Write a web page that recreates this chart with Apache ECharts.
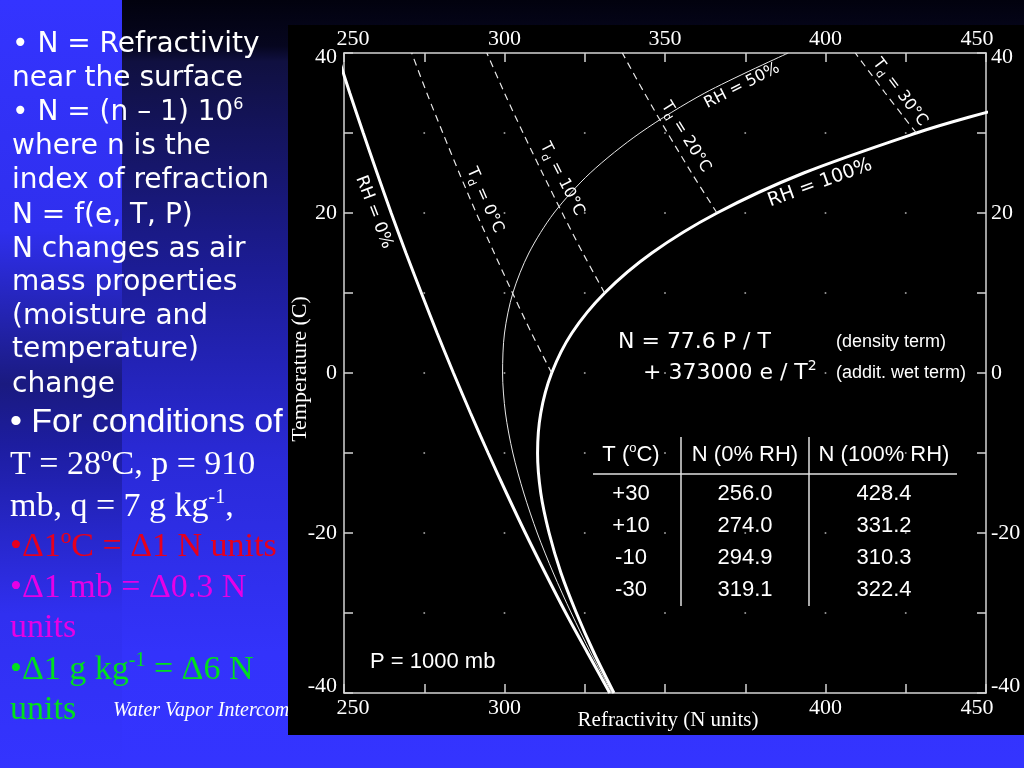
<!DOCTYPE html>
<html><head><meta charset="utf-8">
<script src="https://cdn.jsdelivr.net/npm/echarts@6/dist/echarts.min.js"></script>
<style>html,body{margin:0;padding:0;background:#3333ff;overflow:hidden}#main{width:1024px;height:768px}</style>
</head><body><div id="main"></div>
<script>
// ---- data (N units vs temperature °C, P = 1000 mb) ----
const temps   = [-40,-35,-30,-25,-20,-15,-10,-5,0,5,10,15,20,25,30,35,40];
const rh0N    = [332.8,325.9,319.1,312.7,306.5,300.6,294.9,289.4,284.1,279.0,274.1,269.3,264.7,260.3,256.0,251.8,247.8];
const rh50N   = [333.5,326.9,320.8,315.2,310.2,306.0,302.6,300.3,299.4,300.0,302.6,307.6,315.4,326.7,342.2,362.4,388.4];
const rh100T  = [-40,-35,-30,-25,-20,-15,-10,-5,0,5,10,15,20,25,30,32,35];
const rh100N  = [334.1,327.9,322.4,317.6,313.9,311.3,310.3,311.3,314.7,321.0,331.2,345.9,366.2,393.2,428.3,444.9,473.0];
const td0T    = [0,5,10,15,20,25,30,35,40];
const td0N    = [314.7,308.4,302.5,296.8,291.2,285.9,280.8,275.8,271.1];
const td10T   = [10,15,20,25,30,35,40];
const td10N   = [331.2,324.4,318.0,311.8,305.8,300.0,294.5];
const td20T   = [20,25,30,35,40];
const td20N   = [366.2,358.3,350.8,343.6,336.7];
const td30T   = [30,32,35,40];
const td30N   = [428.3,424.4,418.6,409.3];
const dotN    = [275,300,325,350,375,400,425];
const dotT    = [30,20,10,0,-10,-20,-30];
const tableT    = ['+30','+10','-10','-30'];
const tableN0   = ['256.0','274.0','294.9','319.1'];
const tableN100 = ['428.4','331.2','310.3','322.4'];

function pairs(ns, ts){ return ns.map((n,i)=>[n, ts[i]]); }
const dots = [];
dotN.forEach(n => dotT.forEach(t => dots.push([n, t])));

const AX = '#d4d4d4';
const lblFont = {color:'#fff', fontFamily:'Liberation Serif', fontSize:22};
function xAxisCfg(pos){
  return {
    type:'value', position:pos, min:250, max:450, interval:50,
    axisLine:{show:true, onZero:false, lineStyle:{color:AX, width:1.5}},
    axisTick:{show:true, inside:true, length:9, lineStyle:{color:AX, width:1.5}},
    minorTick:{show:true, splitNumber:2, length:9, lineStyle:{color:AX, width:1.5}},
    splitLine:{show:false},
    axisLabel:{margin: pos==='top'?3:4,
      formatter:v => v===250 ? '{l|250}' : (v===450 ? '{r|450}' : ((pos==='bottom' && v===350) ? '' : '{n|'+v+'}')),
      rich:{n:lblFont, l:Object.assign({padding:[0,0,0,18]}, lblFont), r:Object.assign({padding:[0,18,0,0]}, lblFont)}}
  };
}
function yAxisCfg(pos){
  return {
    type:'value', position:pos, min:-40, max:40, interval:20,
    axisLine:{show:true, onZero:false, lineStyle:{color:AX, width:1.5}},
    axisTick:{show:true, inside:true, length:9, lineStyle:{color:AX, width:1.5}},
    minorTick:{show:true, splitNumber:2, length:9, lineStyle:{color:AX, width:1.5}},
    splitLine:{show:false},
    axisLabel:{margin: pos==='left'?7:5,
      formatter:v => v===40 ? '{t|40}' : (v===-40 ? '{b|-40}' : '{n|'+v+'}'),
      rich:{n:lblFont, t:Object.assign({padding:[8,0,0,0]}, lblFont), b:Object.assign({padding:[0,0,14,0]}, lblFont)}}
  };
}
const base = {type:'line', symbol:'none', showSymbol:false, smooth:0.3, clip:true, silent:true, z:3};
const thick = {color:'#fff', width:3};
const dash  = {color:'#e8e8e8', width:1.2, type:[7,5]};

const chart = echarts.init(document.getElementById('main'));
chart.setOption({
  animation:false,
  backgroundColor:'#3333ff',
  grid:{left:344, right:38, top:53, bottom:75, containLabel:false},
  xAxis:[xAxisCfg('bottom'), xAxisCfg('top')],
  yAxis:[yAxisCfg('left'), yAxisCfg('right')],
  series:[
    {type:'scatter', data:dots, symbolSize:2, itemStyle:{color:'#bdbdbd'}, silent:true, z:2},
    Object.assign({name:'RH = 0%', data:pairs(rh0N, temps), lineStyle:thick}, base),
    Object.assign({name:'RH = 50%', data:pairs(rh50N, temps), lineStyle:{color:'#e8e8e8', width:1}}, base),
    Object.assign({name:'RH = 100%', data:pairs(rh100N, rh100T), lineStyle:thick}, base),
    Object.assign({name:'Td = 0°C', data:pairs(td0N, td0T), lineStyle:dash}, base),
    Object.assign({name:'Td = 10°C', data:pairs(td10N, td10T), lineStyle:dash}, base),
    Object.assign({name:'Td = 20°C', data:pairs(td20N, td20T), lineStyle:dash}, base),
    Object.assign({name:'Td = 30°C', data:pairs(td30N, td30T), lineStyle:dash}, base)
  ]
});

// ---------- annotations ----------
const P = (n,t) => chart.convertToPixel({gridIndex:0}, [n,t]);
const deg = d => d*Math.PI/180;
const curveFont = 'DejaVu Sans';
function curveLabel(txt, n, t, rotDeg, size){
  const p = P(n,t);
  return {type:'text', x:p[0], y:p[1], rotation:deg(rotDeg), z:20,
    style:{text:txt, fill:'#fff', fontFamily:curveFont, fontSize:size, align:'center', verticalAlign:'middle'}};
}
function tdLabel(val, n, t, rotDeg){
  const p = P(n,t);
  return {type:'text', x:p[0], y:p[1], rotation:deg(rotDeg), z:20,
    style:{text:'{a|T}{d|d}{a| = '+val+'°C}', align:'center', verticalAlign:'middle',
      rich:{a:{fill:'#fff', fontFamily:curveFont, fontSize:16, lineHeight:22, verticalAlign:'middle'},
            d:{fill:'#fff', fontFamily:curveFont, fontSize:11, lineHeight:22, verticalAlign:'bottom'}}}};
}
function txt(s, x, y, opt){
  return {type:'text', x:x, y:y, z:opt.z||-20,
    style:Object.assign({text:s, fill:'#fff', align:'left', verticalAlign:'middle'}, opt.style)};
}
const leftFont = {fontFamily:'DejaVu Sans', fontSize:28};
const leftLines = ['• N = Refractivity','near the surface',null,'where n is the','index of refraction',
  'N = f(e, T, P)','N changes as air','mass properties','(moisture and','temperature)','change'];
const leftY = [45,79,113,147,181,216,250,283,317,350,385];
const serif = {fontFamily:'Liberation Serif', fontSize:34};

const g = [];
// backgrounds
g.push({type:'rect', z:-100, shape:{x:122,y:0,width:902,height:768},
  style:{fill:new echarts.graphic.LinearGradient(0,0,0,1,[
    {offset:0,color:'#02020e'},{offset:0.06,color:'#06061f'},{offset:0.08,color:'#101040'},
    {offset:0.35,color:'#1c1c95'},{offset:0.6,color:'#2a2ad8'},{offset:0.85,color:'#3333fb'},{offset:1,color:'#3434ff'}])}});
g.push({type:'rect', z:-100, shape:{x:0,y:0,width:122,height:768},
  style:{fill:new echarts.graphic.LinearGradient(0,0,0,1,[
    {offset:0,color:'#3434ff'},{offset:0.3,color:'#2f2fee'},{offset:0.5,color:'#1a1a80'},
    {offset:0.58,color:'#1d1da0'},{offset:0.8,color:'#3030f0'},{offset:1,color:'#3434ff'}])}});
// left text
leftLines.forEach((s,i) => { if(s) g.push(txt(s, 12, leftY[i], {style:leftFont})); });
g.push({type:'text', x:12, y:113, z:-20, style:{text:'{a|• N = (n – 1) 10}{s|6}', align:'left', verticalAlign:'middle',
  rich:{a:{fill:'#fff', fontFamily:'DejaVu Sans', fontSize:28, lineHeight:32, verticalAlign:'middle'},
        s:{fill:'#fff', fontFamily:'DejaVu Sans', fontSize:16, lineHeight:32, verticalAlign:'top'}}}});
g.push(txt('• For conditions of', 10, 423, {style:{fontFamily:'Liberation Sans', fontSize:34}}));
g.push(txt('T = 28ºC, p = 910', 10, 465, {style:serif}));
g.push({type:'text', x:10, y:507, z:-20, style:{text:'{a|mb, q = 7 g kg}{s|-1}{a|,}', align:'left', verticalAlign:'middle',
  rich:{a:{fill:'#fff', fontFamily:'Liberation Serif', fontSize:34, lineHeight:38, verticalAlign:'middle'},
        s:{fill:'#fff', fontFamily:'Liberation Serif', fontSize:20, lineHeight:38, verticalAlign:'top'}}}});
g.push(txt('•Δ1ºC = Δ1 N units', 10, 547, {style:Object.assign({fill:'#e6001e'}, serif)}));
g.push(txt('•Δ1 mb = Δ0.3 N', 10, 588, {style:Object.assign({fill:'#e600e6'}, serif)}));
g.push(txt('units', 10, 628, {style:Object.assign({fill:'#e600e6'}, serif)}));
g.push({type:'text', x:10, y:670, z:-20, style:{text:'{a|•Δ1 g kg}{s|-1}{a| = Δ6 N}', align:'left', verticalAlign:'middle',
  rich:{a:{fill:'#00e01e', fontFamily:'Liberation Serif', fontSize:34, lineHeight:38, verticalAlign:'middle'},
        s:{fill:'#00e01e', fontFamily:'Liberation Serif', fontSize:20, lineHeight:38, verticalAlign:'top'}}}});
g.push(txt('units', 10, 710, {style:Object.assign({fill:'#00e01e'}, serif)}));
g.push(txt('Water Vapor Intercomparison', 113, 711, {style:{fontFamily:'Liberation Serif', fontSize:20, fontStyle:'italic'}}));
// black chart panel (covers the end of the credit line)
g.push({type:'rect', z:-10, shape:{x:288,y:25,width:736,height:710}, style:{fill:'#000'}});
// axis titles
g.push({type:'text', x:300, y:369, rotation:Math.PI/2, z:20,
  style:{text:'Temperature (C)', fill:'#fff', fontFamily:'Liberation Serif', fontSize:22, align:'center', verticalAlign:'middle'}});
g.push({type:'text', x:668, y:720, z:20,
  style:{text:'Refractivity (N units)', fill:'#fff', fontFamily:'Liberation Serif', fontSize:21, align:'center', verticalAlign:'middle'}});
// curve labels
g.push(curveLabel('RH = 0%', 259.3, 20.1, -69, 17));
g.push(curveLabel('RH = 50%', 374.0, 35.9, 27, 16));
g.push(curveLabel('RH = 100%', 398.3, 23.75, 20, 19));
g.push(tdLabel('0', 293.9, 21.6, -66));
g.push(tdLabel('10', 317.9, 24.25, -63));
g.push(tdLabel('20', 356.5, 29.5, -58));
g.push(tdLabel('30', 423.2, 35.1, -53));
// formula
g.push({type:'text', x:618, y:342, z:20, style:{text:'N = 77.6 P / T', fill:'#fff', fontFamily:'DejaVu Sans', fontSize:22, align:'left', verticalAlign:'middle'}});
g.push({type:'text', x:643, y:373, z:20, style:{text:'{a|+ 373000 e / T}{s|2}', align:'left', verticalAlign:'middle',
  rich:{a:{fill:'#fff', fontFamily:'DejaVu Sans', fontSize:22, lineHeight:28, verticalAlign:'middle'},
        s:{fill:'#fff', fontFamily:'DejaVu Sans', fontSize:14, lineHeight:28, verticalAlign:'top'}}}});
g.push({type:'text', x:836, y:342, z:20, style:{text:'(density term)', fill:'#fff', fontFamily:'Liberation Sans', fontSize:18, align:'left', verticalAlign:'middle'}});
g.push({type:'text', x:836, y:373, z:20, style:{text:'(addit. wet term)', fill:'#fff', fontFamily:'Liberation Sans', fontSize:18, align:'left', verticalAlign:'middle'}});
// table
const colX = [631, 745, 884];
g.push({type:'text', x:colX[0], y:455, z:20, style:{text:'{a|T (}{s|o}{a|C)}', align:'center', verticalAlign:'middle',
  rich:{a:{fill:'#fff', fontFamily:'Liberation Sans', fontSize:22, lineHeight:26, verticalAlign:'middle'},
        s:{fill:'#fff', fontFamily:'Liberation Sans', fontSize:13, lineHeight:26, verticalAlign:'top'}}}});
g.push({type:'text', x:colX[1], y:455, z:20, style:{text:'N (0% RH)', fill:'#fff', fontFamily:'Liberation Sans', fontSize:22, align:'center', verticalAlign:'middle'}});
g.push({type:'text', x:colX[2], y:455, z:20, style:{text:'N (100% RH)', fill:'#fff', fontFamily:'Liberation Sans', fontSize:22, align:'center', verticalAlign:'middle'}});
const rowY = [494, 526, 558, 590];
[tableT, tableN0, tableN100].forEach((col, c) => col.forEach((s, r) => {
  g.push({type:'text', x:colX[c], y:rowY[r], z:20, style:{text:s, fill:'#fff', fontFamily:'Liberation Sans', fontSize:22, align:'center', verticalAlign:'middle'}});
}));
g.push({type:'line', z:20, shape:{x1:593,y1:474,x2:957,y2:474}, style:{stroke:'#e0e0e0', lineWidth:1.5}});
g.push({type:'line', z:20, shape:{x1:681,y1:437,x2:681,y2:606}, style:{stroke:'#e0e0e0', lineWidth:1.5}});
g.push({type:'line', z:20, shape:{x1:809,y1:437,x2:809,y2:606}, style:{stroke:'#e0e0e0', lineWidth:1.5}});
g.push({type:'text', x:370, y:662, z:20, style:{text:'P = 1000 mb', fill:'#fff', fontFamily:'Liberation Sans', fontSize:22, align:'left', verticalAlign:'middle'}});

chart.setOption({graphic:{elements:g}});
</script></body></html>
